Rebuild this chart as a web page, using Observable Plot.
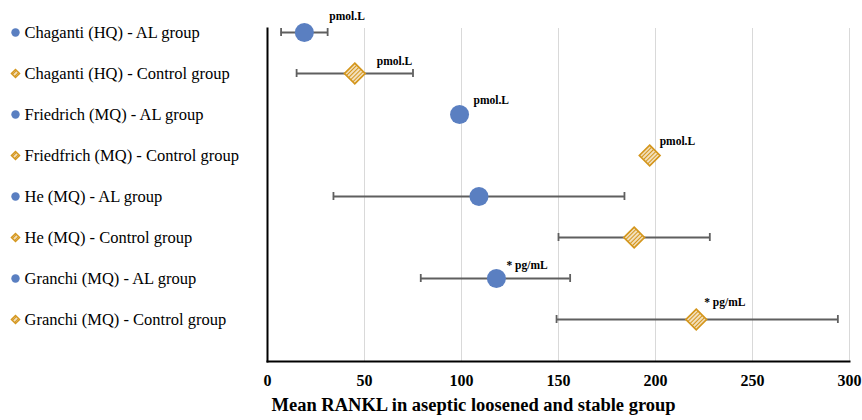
<!DOCTYPE html>
<html><head><meta charset="utf-8">
<script src="https://cdn.jsdelivr.net/npm/d3@7"></script>
<script src="https://cdn.jsdelivr.net/npm/@observablehq/plot@0.6"></script>
<style>body{margin:0;background:#fff} #chart svg{display:block} #chart svg text{font-family:"Liberation Serif","Times New Roman",serif}</style>
</head><body><div id="chart"></div>
<script>
const labels = [
  "Chaganti (HQ) - AL group",
  "Chaganti (HQ) - Control group",
  "Friedrich (MQ) - AL group",
  "Friedfrich (MQ) - Control group",
  "He (MQ) - AL group",
  "He (MQ) - Control group",
  "Granchi (MQ) - AL group",
  "Granchi (MQ) - Control group"
];
const groups = ["AL", "Control", "AL", "Control", "AL", "Control", "AL", "Control"];
const means = [19, 45, 99, 197, 109, 189, 118, 221];
const lower = [7, 15, null, null, 34, 150, 79, 149];
const upper = [31, 75, null, null, 184, 228, 156, 294];
const units = ["pmol.L", "pmol.L", "pmol.L", "pmol.L", "", "", "* pg/mL", "* pg/mL"];
const xTicks = [0, 50, 100, 150, 200, 250, 300];
const xTitle = "Mean RANKL in aseptic loosened and stable group";

const rows = labels.map((label, i) => ({label, group: groups[i], mean: means[i], lo: lower[i], hi: upper[i], unit: units[i], i}));

// label placement offsets (px) relative to each marker
const unitOffsets = [[25, -16], [22, -12], [14, -14], [10, -14], [0, 0], [0, 0], [10, -13], [8, -17]];

const blue = "#5A7FC1", orange = "#D4961C", barGray = "#5f5f5f";
const withBars = rows.filter(d => d.lo != null);
const al = rows.filter(d => d.group === "AL");
const ctrl = rows.filter(d => d.group === "Control");

const plot = Plot.plot({
  width: 862, height: 420,
  marginLeft: 267, marginRight: 13, marginTop: 28, marginBottom: 59,
  style: {fontFamily: "'Liberation Serif','Times New Roman',serif", background: "white", color: "black", overflow: "visible"},
  x: {domain: [0, 300], ticks: xTicks},
  y: {type: "point", domain: labels, range: [32, 319], padding: 0, axis: null},
  marks: [
    Plot.gridX(xTicks.slice(1), {stroke: "#d9d9d9", strokeOpacity: 1, strokeWidth: 1}),
    Plot.ruleY(withBars, {y: "label", x1: "lo", x2: "hi", stroke: barGray, strokeWidth: 1.8}),
    Plot.ruleX(withBars, {x: "lo", y1: "label", y2: "label", insetTop: -4, insetBottom: -4, stroke: barGray, strokeWidth: 1.8}),
    Plot.ruleX(withBars, {x: "hi", y1: "label", y2: "label", insetTop: -4, insetBottom: -4, stroke: barGray, strokeWidth: 1.8}),
    Plot.dot(al, {x: "mean", y: "label", r: 9.5, fill: blue, stroke: "none"}),
    Plot.dot(ctrl, {x: "mean", y: "label", r: 9.3, symbol: "diamond2", fill: "url(#hatch)", stroke: orange, strokeWidth: 1.7}),
    ...rows.filter(d => d.unit).map(d => Plot.text([d], {
      x: "mean", y: "label", text: "unit", dx: unitOffsets[d.i][0], dy: unitOffsets[d.i][1],
      textAnchor: "start", fontWeight: "bold", fontSize: 11.5
    })),
    // category labels with legend-like symbols
    Plot.dot(al, {y: "label", frameAnchor: "left", dx: -252, r: 4.2, fill: blue, stroke: "none"}),
    Plot.dot(ctrl, {y: "label", frameAnchor: "left", dx: -252, r: 3.7, symbol: "diamond2", fill: "url(#hatch)", stroke: orange, strokeWidth: 1.4}),
    Plot.text(rows, {y: "label", text: "label", frameAnchor: "left", dx: -243, textAnchor: "start", fontSize: 16.5, fill: "black"}),
    Plot.axisX(xTicks, {tickSize: 0, tickPadding: 13, fontSize: 16, fontWeight: "bold", label: null}),
    Plot.frame({anchor: "bottom", stroke: "black", strokeWidth: 2}),
    Plot.frame({anchor: "left", stroke: "black", strokeWidth: 2}),
    Plot.text([xTitle], {frameAnchor: "bottom-left", dx: 4, dy: 49, textAnchor: "start", fontSize: 18.5, fontWeight: "bold", fill: "black"})
  ]
});

plot.insertAdjacentHTML("afterbegin",
  `<defs><pattern id="hatch" width="3" height="3" patternUnits="userSpaceOnUse" patternTransform="rotate(45)">
     <rect width="3" height="3" fill="white"/>
     <line x1="1.5" y1="0" x2="1.5" y2="3" stroke="${orange}" stroke-width="1.6"/>
   </pattern></defs>`);

document.getElementById("chart").appendChild(plot);
</script>
</body></html>
